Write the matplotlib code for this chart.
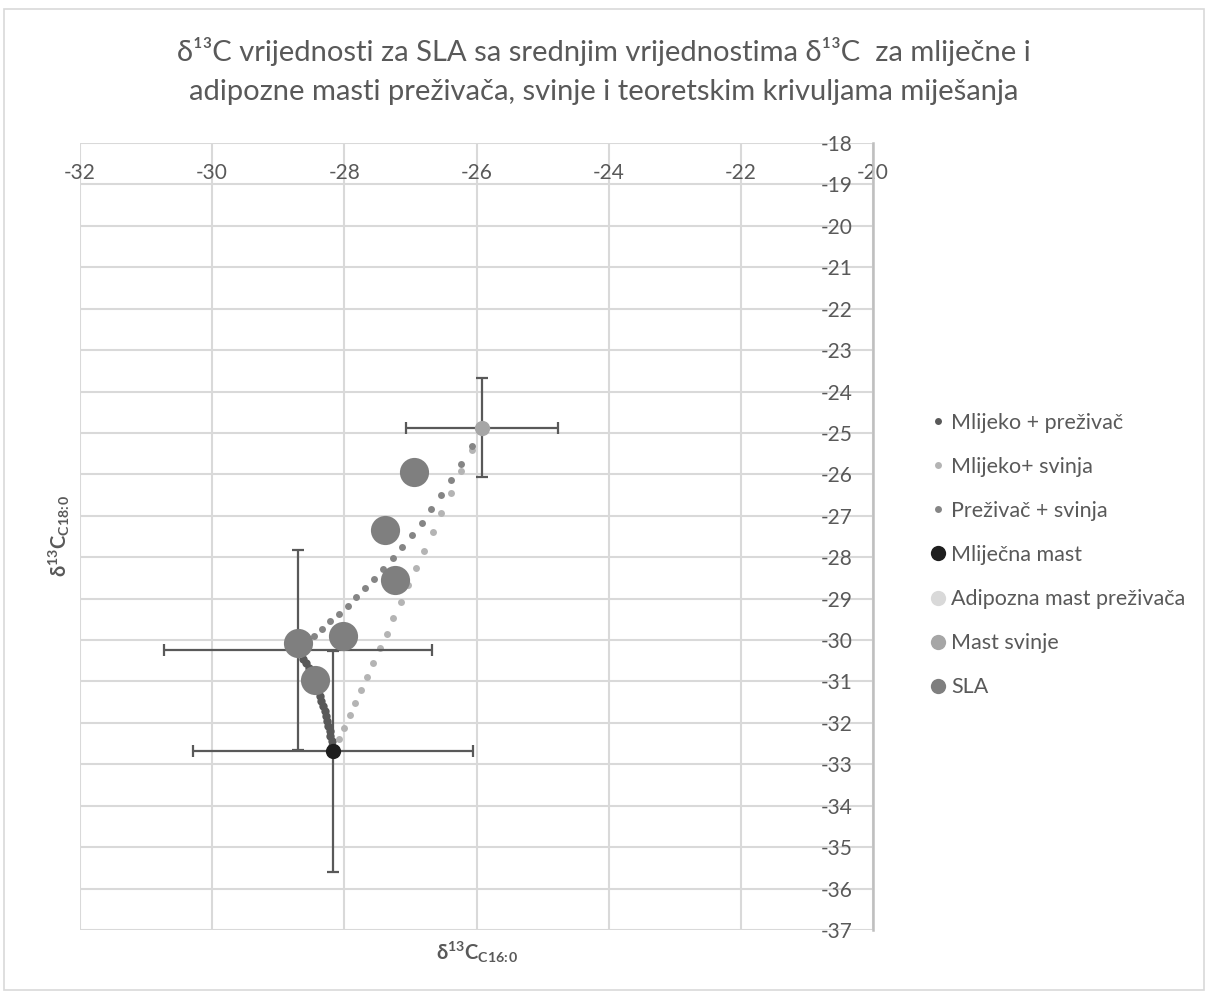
import matplotlib
matplotlib.use("Agg")
import matplotlib.pyplot as plt
from matplotlib.lines import Line2D
from matplotlib.patches import Rectangle

plt.rcParams['font.family'] = ['Lato', 'DejaVu Sans']
plt.rcParams['mathtext.fontset'] = 'custom'
plt.rcParams['mathtext.rm'] = 'Lato'
plt.rcParams['mathtext.bf'] = 'Lato:bold'
plt.rcParams['axes.unicode_minus'] = False

# teoretske krivulje miješanja
mlijeko_prez_x = [-28.17, -28.18, -28.19, -28.21, -28.22, -28.24, -28.26, -28.28, -28.30, -28.32,
                  -28.35, -28.37, -28.40, -28.43, -28.46, -28.50, -28.54, -28.58, -28.62, -28.66, -28.70]
mlijeko_prez_y = [-32.68, -32.56, -32.44, -32.32, -32.20, -32.08, -31.96, -31.84, -31.72, -31.60,
                  -31.47, -31.34, -31.20, -31.06, -30.93, -30.80, -30.68, -30.56, -30.45, -30.34, -30.24]

mlijeko_svinja_x = [-28.17, -28.08, -28.01, -27.92, -27.84, -27.75, -27.66, -27.56, -27.46, -27.36, -27.26,
                    -27.15, -27.03, -26.91, -26.79, -26.66, -26.53, -26.38, -26.23, -26.07, -25.91]
mlijeko_svinja_y = [-32.68, -32.40, -32.12, -31.82, -31.52, -31.21, -30.88, -30.55, -30.20, -29.85, -29.47,
                    -29.08, -28.68, -28.27, -27.84, -27.39, -26.93, -26.44, -25.93, -25.41, -24.87]

prez_svinja_x = [-28.70, -28.58, -28.46, -28.34, -28.21, -28.08, -27.95, -27.82, -27.68, -27.55, -27.41,
                 -27.27, -27.13, -26.98, -26.83, -26.69, -26.54, -26.39, -26.23, -26.07, -25.91]
prez_svinja_y = [-30.24, -30.08, -29.91, -29.73, -29.55, -29.37, -29.18, -28.97, -28.75, -28.53, -28.28,
                 -28.03, -27.75, -27.47, -27.18, -26.84, -26.50, -26.13, -25.74, -25.32, -24.87]

# srednje vrijednosti s pogreškama
mlijecna_x, mlijecna_y = -28.17, -32.68
mlijecna_xerr = 2.12
mlijecna_yerr = [[2.92], [2.41]]

adipozna_x, adipozna_y = -28.70, -30.24
adipozna_xerr, adipozna_yerr = 2.03, 2.42

svinja_x, svinja_y = -25.91, -24.87
svinja_xerr, svinja_yerr = 1.15, 1.20

# SLA uzorci
sla_x = [-26.95, -27.38, -27.24, -28.02, -28.70, -28.45]
sla_y = [-25.94, -27.35, -28.56, -29.91, -30.06, -30.97]

xticks = [-32, -30, -28, -26, -24, -22, -20]
yticks = list(range(-37, -17))

txt = '#595959'
fig = plt.figure(figsize=(12.08, 9.94), dpi=100)
ax = fig.add_axes([80 / 1208, 1 - 930 / 994, 793 / 1208, 787 / 994])

ax.plot(mlijeko_prez_x, mlijeko_prez_y, 'o', ms=6, color='#595959', mec='none', zorder=3)
ax.plot(mlijeko_svinja_x, mlijeko_svinja_y, 'o', ms=5, color='#b4b4b4', mec='none', zorder=3)
ax.plot(prez_svinja_x, prez_svinja_y, 'o', ms=5, color='#858585', mec='none', zorder=3)

ekw = dict(fmt='none', ecolor='#595959', elinewidth=1.6, capsize=4.5, capthick=1.6, zorder=4)
ax.errorbar(mlijecna_x, mlijecna_y, xerr=mlijecna_xerr, yerr=mlijecna_yerr, **ekw)
ax.errorbar(adipozna_x, adipozna_y, xerr=adipozna_xerr, yerr=adipozna_yerr, **ekw)
ax.errorbar(svinja_x, svinja_y, xerr=svinja_xerr, yerr=svinja_yerr, **ekw)

ax.plot(mlijecna_x, mlijecna_y, 'o', ms=11, color='#1e1e1e', mec='none', zorder=5)
ax.plot(adipozna_x, adipozna_y, 'o', ms=11, color='#d9d9d9', mec='none', zorder=5)
ax.plot(svinja_x, svinja_y, 'o', ms=11, color='#a6a6a6', mec='none', zorder=5)
ax.plot(sla_x, sla_y, 'o', ms=21, color='#7f7f7f', mec='none', zorder=6)

ax.set_xlim(-32, -20)
ax.set_ylim(-37, -18)
ax.set_xticks(xticks)
ax.set_yticks(yticks)
ax.grid(True, color='#d9d9d9', lw=1.5)
ax.set_axisbelow(True)

ax.spines['left'].set_position(('data', -20))
ax.spines['left'].set_color('#bfbfbf')
ax.spines['left'].set_linewidth(1.8)
ax.spines['top'].set_position(('data', -19))
ax.spines['top'].set_visible(False)
ax.spines['right'].set_visible(False)
ax.spines['bottom'].set_visible(False)
ax.xaxis.set_ticks_position('top')
ax.yaxis.set_ticks_position('left')
ax.tick_params(length=0, labelcolor=txt, labelsize=15)
ax.tick_params(axis='y', pad=15)
ax.tick_params(axis='x', pad=1)

ax.set_xlabel(r'δ$\mathbf{^{13}}$C$\mathbf{_{C16\!:\!0}}$', fontsize=14.5, fontweight='bold', color=txt)
ax.xaxis.set_label_position('bottom')
ax.xaxis.set_label_coords(0.5, -0.012)
ax.set_ylabel(r'δ$\mathbf{^{13}}$C$\mathbf{_{C18\!:\!0}}$', fontsize=14.5, fontweight='bold', color=txt)
ax.yaxis.set_label_coords(-0.01, 0.5)

fig.text(0.5, 1 - 52 / 994, 'δ¹³C vrijednosti za SLA sa srednjim vrijednostima δ¹³C  za mliječne i',
         ha='center', va='center', fontsize=21, color=txt)
fig.text(0.5, 1 - 92 / 994, 'adipozne masti preživača, svinje i teoretskim krivuljama miješanja',
         ha='center', va='center', fontsize=21, color=txt)

handles = [
    Line2D([], [], ls='none', marker='o', ms=5, color='#595959', mec='none'),
    Line2D([], [], ls='none', marker='o', ms=5, color='#b4b4b4', mec='none'),
    Line2D([], [], ls='none', marker='o', ms=5, color='#858585', mec='none'),
    Line2D([], [], ls='none', marker='o', ms=11, color='#1e1e1e', mec='none'),
    Line2D([], [], ls='none', marker='o', ms=11, color='#d9d9d9', mec='none'),
    Line2D([], [], ls='none', marker='o', ms=11, color='#a6a6a6', mec='none'),
    Line2D([], [], ls='none', marker='o', ms=11, color='#7f7f7f', mec='none'),
]
labels = ['Mlijeko + preživač', 'Mlijeko+ svinja', 'Preživač + svinja', 'Mliječna mast',
          'Adipozna mast preživača', 'Mast svinje', 'SLA']
fig.legend(handles, labels, loc='center left', bbox_to_anchor=(920 / 1208, 1 - 555 / 994),
           frameon=False, fontsize=15.5, labelcolor=txt, handlelength=0.7, handletextpad=0.25,
           labelspacing=1.12, borderpad=0)

fig.patches.append(Rectangle((0.003, 0.004), 0.994, 0.987, transform=fig.transFigure,
                             fill=False, ec='#d9d9d9', lw=1.2))

fig.savefig('out.png', dpi=100)
